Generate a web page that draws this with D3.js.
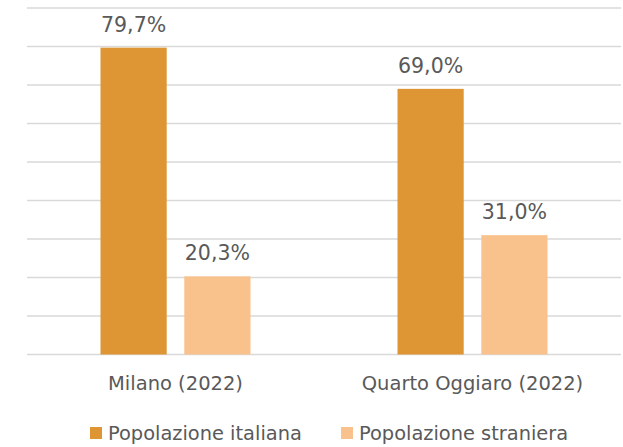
<!DOCTYPE html>
<html lang="it">
<head>
<meta charset="UTF-8">
<title>popolazione</title>
<script src="https://cdn.jsdelivr.net/npm/d3@7"></script>
<style>
    body { margin:0; background:#fff; }
    text { font-family: "DejaVu Sans", sans-serif; fill:#595959; }
    .grid line { stroke:#d9d9d9; stroke-width:1.3px; }
</style>
</head>
<body>
<div id="chart"></div>
<script>
    // dati
    var categorie = ["Milano (2022)", "Quarto Oggiaro (2022)"]
    var serie = ["Popolazione italiana", "Popolazione straniera"]
    var italiana = [79.7, 69.0]
    var straniera = [20.3, 31.0]
    var ticks = [0, 10, 20, 30, 40, 50, 60, 70, 80, 90]
    var colori = ["#dd9633", "#f9c18c"]

    var W = 623, H = 447
    var svg = d3.select("#chart").append("svg").attr("width", W).attr("height", H)

    var x = d3.scaleBand().domain(categorie).range([27, 621])
    var xs = d3.scaleBand().domain(serie).range([0, 150]).paddingInner(0.21)
    var y = d3.scaleLinear().domain([0, 90]).range([354.5, 8])

    // griglia
    svg.append("g").attr("class", "grid")
        .selectAll("line").data(ticks).enter().append("line")
        .attr("x1", 27).attr("x2", 621)
        .attr("y1", d => y(d)).attr("y2", d => y(d))

    var dati = categorie.map((c, i) => ({cat: c, valori: [italiana[i], straniera[i]]}))

    var gruppi = svg.selectAll(".gruppo").data(dati).enter().append("g")
        .attr("class", "gruppo")
        .attr("transform", d => "translate(" + (x(d.cat) + x.bandwidth() / 2 - 75) + ",0)")

    gruppi.selectAll("rect").data(d => d.valori.map((v, j) => ({s: serie[j], v: v, j: j})))
        .enter().append("rect")
        .attr("x", d => xs(d.s))
        .attr("width", xs.bandwidth())
        .attr("y", d => y(d.v))
        .attr("height", d => y(0) - y(d.v))
        .attr("fill", d => colori[d.j])

    gruppi.selectAll(".val").data(d => d.valori.map((v, j) => ({s: serie[j], v: v})))
        .enter().append("text")
        .attr("class", "val")
        .attr("x", d => xs(d.s) + xs.bandwidth() / 2)
        .attr("y", d => y(d.v) - 16)
        .attr("text-anchor", "middle")
        .style("font-size", "20.5px")
        .text(d => d.v.toFixed(1).replace(".", ",") + "%")

    // etichette categorie
    svg.selectAll(".cat").data(categorie).enter().append("text")
        .attr("x", d => x(d) + x.bandwidth() / 2)
        .attr("y", 390)
        .attr("text-anchor", "middle")
        .style("font-size", "19.5px")
        .text(d => d)

    // legenda
    var legX = [90, 341]
    var leg = svg.selectAll(".leg").data(serie).enter().append("g")
        .attr("transform", (d, i) => "translate(" + legX[i] + ",427)")
    leg.append("rect").attr("width", 12).attr("height", 12).attr("fill", (d, i) => colori[i])
    leg.append("text").attr("x", 18).attr("y", 13).style("font-size", "19.4px").text(d => d)
</script>
</body>
</html>
